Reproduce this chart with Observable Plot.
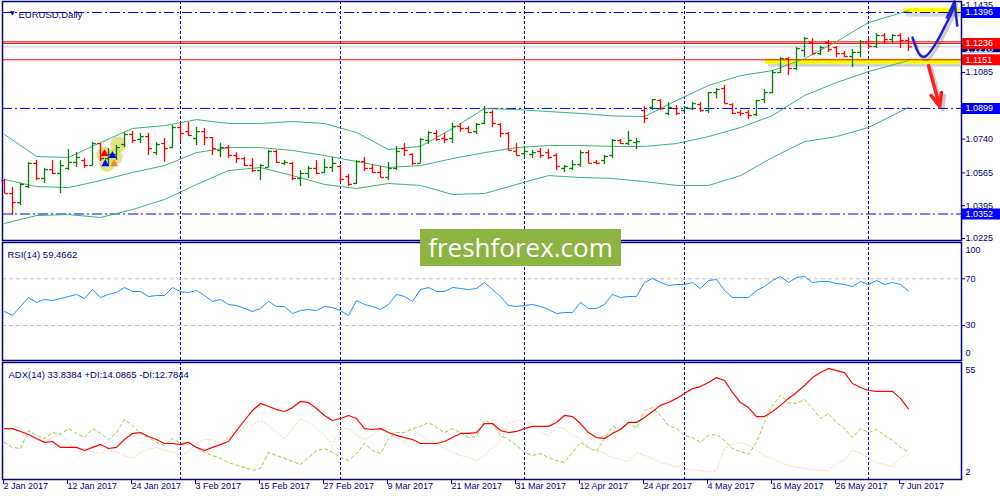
<!DOCTYPE html>
<html><head><meta charset="utf-8">
<script src="https://cdn.jsdelivr.net/npm/d3@7"></script>
<script src="https://cdn.jsdelivr.net/npm/@observablehq/plot@0.6"></script>
<style>
body{margin:0;background:#fff;}
#wrap{position:relative;width:1000px;height:500px;overflow:hidden;background:#fff;}
#wrap svg{position:absolute;left:0;top:0;}
#wm{position:absolute;left:420px;top:229px;width:201px;height:37px;background:#8db443;color:#fff;
font-family:"Open Sans",sans-serif;font-size:26px;line-height:36px;text-align:center;}
</style></head><body><div id="wrap"></div>
<script>
// ---------- DATA ----------
const open = [1.0525,1.0458,1.0411,1.0494,1.0614,1.0536,1.0582,1.0562,1.0588,1.0619,
1.0629,1.0603,1.0717,1.0639,1.0660,1.0712,1.0764,1.0738,1.0753,1.0670,
1.0717,1.0696,1.0800,1.0779,1.0743,1.0779,1.0748,1.0681,1.0696,1.0655,
1.0639,1.0603,1.0577,1.0593,1.0676,1.0614,1.0614,1.0536,1.0562,1.0588,
1.0567,1.0593,1.0598,1.0546,1.0510,1.0624,1.0588,1.0567,1.0541,1.0588,
1.0691,1.0660,1.0614,1.0733,1.0769,1.0743,1.0743,1.0805,1.0795,1.0779,
1.0821,1.0878,1.0816,1.0769,1.0676,1.0665,1.0660,1.0676,1.0670,1.0655,
1.0588,1.0588,1.0608,1.0670,1.0619,1.0629,1.0655,1.0733,1.0717,1.0722,
1.0888,1.0904,1.0940,1.0873,1.0898,1.0888,1.0898,1.0919,1.0888,1.0981,
1.1002,1.0919,1.0878,1.0878,1.0867,1.0945,1.0981,1.1085,1.1157,1.1106,
1.1199,1.1240,1.1183,1.1240,1.1214,1.1183,1.1168,1.1189,1.1245,1.1220,
1.1277,1.1256,1.1277,1.1251];
const high = [1.0531,1.0489,1.0510,1.0619,1.0629,1.0588,1.0629,1.0629,1.0686,1.0670,
1.0639,1.0722,1.0717,1.0691,1.0707,1.0774,1.0779,1.0769,1.0769,1.0722,
1.0743,1.0810,1.0816,1.0826,1.0800,1.0795,1.0748,1.0717,1.0707,1.0670,
1.0645,1.0639,1.0608,1.0681,1.0681,1.0629,1.0619,1.0577,1.0598,1.0629,
1.0634,1.0645,1.0603,1.0557,1.0629,1.0645,1.0608,1.0598,1.0619,1.0702,
1.0717,1.0665,1.0743,1.0779,1.0784,1.0769,1.0821,1.0821,1.0805,1.0821,
1.0909,1.0888,1.0821,1.0774,1.0717,1.0702,1.0681,1.0691,1.0686,1.0665,
1.0603,1.0629,1.0681,1.0681,1.0629,1.0655,1.0738,1.0738,1.0779,1.0743,
1.0909,1.0945,1.0945,1.0929,1.0914,1.0909,1.0929,1.0929,1.0981,1.1002,
1.1018,1.0924,1.0888,1.0888,1.0940,1.0997,1.1095,1.1163,1.1163,1.1214,
1.1266,1.1261,1.1220,1.1251,1.1220,1.1194,1.1204,1.1251,1.1256,1.1287,
1.1287,1.1282,1.1287,1.1266];
const low = [1.0458,1.0344,1.0396,1.0484,1.0525,1.0510,1.0557,1.0458,1.0577,1.0593,
1.0588,1.0603,1.0624,1.0598,1.0629,1.0696,1.0717,1.0717,1.0655,1.0655,
1.0619,1.0691,1.0722,1.0753,1.0707,1.0707,1.0655,1.0645,1.0639,1.0614,
1.0598,1.0567,1.0525,1.0593,1.0614,1.0603,1.0525,1.0494,1.0536,1.0557,
1.0562,1.0567,1.0515,1.0494,1.0505,1.0572,1.0562,1.0541,1.0525,1.0577,
1.0650,1.0603,1.0614,1.0712,1.0727,1.0717,1.0717,1.0774,1.0769,1.0764,
1.0816,1.0800,1.0748,1.0681,1.0655,1.0639,1.0639,1.0639,1.0634,1.0577,
1.0567,1.0577,1.0593,1.0614,1.0608,1.0608,1.0639,1.0712,1.0707,1.0686,
1.0821,1.0888,1.0888,1.0862,1.0862,1.0883,1.0888,1.0878,1.0873,1.0948,
1.0924,1.0867,1.0857,1.0841,1.0857,1.0924,1.0976,1.1080,1.1069,1.1095,
1.1163,1.1173,1.1173,1.1189,1.1163,1.1163,1.1111,1.1163,1.1209,1.1209,
1.1235,1.1235,1.1209,1.1194];
const close = [1.0458,1.0411,1.0505,1.0614,1.0536,1.0582,1.0562,1.0603,1.0619,1.0645,
1.0603,1.0717,1.0639,1.0660,1.0696,1.0764,1.0733,1.0753,1.0691,1.0712,
1.0691,1.0800,1.0769,1.0759,1.0779,1.0748,1.0691,1.0696,1.0655,1.0639,
1.0603,1.0577,1.0603,1.0676,1.0619,1.0619,1.0536,1.0562,1.0588,1.0562,
1.0593,1.0614,1.0531,1.0505,1.0624,1.0588,1.0567,1.0541,1.0588,1.0676,
1.0681,1.0614,1.0738,1.0774,1.0738,1.0738,1.0805,1.0795,1.0774,1.0816,
1.0878,1.0821,1.0769,1.0681,1.0655,1.0676,1.0670,1.0655,1.0645,1.0598,
1.0598,1.0608,1.0670,1.0614,1.0614,1.0650,1.0733,1.0717,1.0733,1.0727,
1.0847,1.0945,1.0898,1.0904,1.0873,1.0904,1.0924,1.0888,1.0981,1.0997,
1.0924,1.0873,1.0873,1.0862,1.0940,1.0981,1.1085,1.1157,1.1106,1.1209,
1.1261,1.1183,1.1214,1.1204,1.1183,1.1168,1.1189,1.1245,1.1220,1.1277,
1.1256,1.1277,1.1251,1.1218];

// Bollinger bands (read at every 4th bar)
const bbIdx = [0,4,8,12,16,20,24,28,32,36,40,44,48,52,56,60,64,68,72,76,80,84,88,92,96,100,104,108,113];
const bbUpper = [1.0764,1.0650,1.0645,1.0722,1.0795,1.0810,1.0841,1.0821,1.0821,1.0831,1.0821,1.0774,1.0686,1.0702,1.0795,1.0898,1.0893,1.0883,1.0873,1.0860,1.0857,1.0940,1.1018,1.1069,1.1095,1.1157,1.1245,1.1344,1.1406];
const bbMid = [1.0531,1.0494,1.0489,1.0525,1.0567,1.0603,1.0670,1.0696,1.0696,1.0681,1.0655,1.0624,1.0593,1.0603,1.0639,1.0670,1.0696,1.0707,1.0707,1.0702,1.0702,1.0717,1.0753,1.0800,1.0862,1.0966,1.1033,1.1090,1.1147];
const bbLower = [1.0303,1.0344,1.0349,1.0334,1.0375,1.0427,1.0505,1.0577,1.0593,1.0551,1.0505,1.0484,1.0510,1.0500,1.0453,1.0458,1.0505,1.0551,1.0541,1.0536,1.0520,1.0500,1.0500,1.0551,1.0645,1.0727,1.0753,1.0800,1.0904];

const rsi = [42.0,38.6,46.3,54.0,49.7,52.3,51.4,53.1,54.8,56.6,
53.1,60.8,54.0,56.6,58.3,62.5,59.1,59.1,54.8,55.7,
55.7,62.5,59.1,58.3,60.0,55.7,50.6,52.3,48.0,47.1,
44.6,42.0,44.6,50.6,46.3,46.3,40.3,42.8,43.7,42.8,
46.3,45.4,42.8,38.6,51.4,48.0,46.3,43.7,48.0,56.6,
54.8,50.6,60.8,62.5,59.1,59.1,62.5,61.7,60.8,61.7,
66.8,60.8,54.8,47.1,46.3,47.1,48.0,46.3,43.7,40.3,
41.1,41.1,49.7,44.6,44.6,48.0,56.6,54.0,54.8,54.8,
66.8,70.3,66.8,64.3,65.1,65.1,66.8,61.7,68.5,69.4,
60.0,54.0,54.0,54.0,60.0,63.4,68.5,72.0,66.8,71.1,
72.0,66.8,67.7,67.7,66.0,65.1,63.4,67.7,65.1,68.5,
65.1,66.8,65.1,59.47];

const adx = [24.8,24.8,23.5,22.1,20.3,18.5,18.9,16.2,16.2,16.2,
14.8,16.2,17.5,15.7,16.2,19.8,22.6,23.0,21.2,19.8,
18.0,18.0,17.5,18.5,16.2,14.8,16.2,17.5,18.9,23.9,
28.5,33.1,36.3,34.9,33.5,32.6,34.4,37.2,36.7,34.0,
30.8,28.5,29.4,30.8,29.4,24.8,24.4,24.8,23.0,21.7,
20.7,19.8,18.0,18.0,18.0,18.9,20.7,22.6,22.6,23.0,
27.1,27.1,23.9,23.0,23.5,24.8,25.8,25.8,25.8,27.6,
30.8,30.3,27.1,23.0,20.7,20.3,22.6,24.4,27.6,27.6,
29.9,32.6,35.4,36.7,38.6,40.8,43.1,44.0,45.9,48.1,
46.8,41.3,36.7,34.4,30.3,30.3,32.6,35.4,38.6,41.3,
44.5,48.1,50.4,52.3,51.3,50.4,45.4,43.6,42.2,41.8,
41.8,41.8,38.6,33.84];
const plusDI = [18.5,16.2,15.7,23.9,21.7,20.3,23.0,22.1,24.8,22.6,
20.7,24.8,22.6,19.8,23.0,29.0,26.2,22.6,20.7,18.5,
17.1,20.3,18.0,18.5,16.2,13.9,12.5,11.2,9.3,8.0,
7.1,5.7,6.6,13.9,12.5,11.2,9.8,8.4,11.6,14.8,
15.7,13.9,11.6,10.2,13.4,18.0,14.8,13.4,20.3,23.0,
23.0,24.8,25.8,27.6,25.3,23.0,24.8,23.0,20.7,21.2,
28.5,27.1,21.7,19.8,17.1,13.9,12.5,13.4,11.6,10.2,
9.3,13.9,18.5,16.2,14.3,20.3,25.8,24.4,27.6,24.8,
33.1,34.4,30.8,26.2,24.8,21.7,20.7,18.5,21.7,22.1,
19.4,15.7,14.3,13.0,18.5,27.6,35.4,39.9,36.7,36.3,
38.1,34.0,29.4,31.7,27.6,24.8,20.7,24.8,23.0,24.4,
21.7,19.4,16.2,14.09];
const minusDI = [23.0,26.2,24.8,21.7,19.8,18.5,20.7,22.6,18.0,16.2,
15.7,14.3,13.4,15.7,13.9,12.5,11.2,13.9,15.3,16.2,
14.8,14.3,12.5,14.3,18.0,19.8,19.8,18.5,20.5,22.6,
25.3,26.7,28.5,26.2,23.0,20.3,24.8,29.4,27.6,24.8,
21.7,17.1,24.8,24.8,22.1,19.8,21.7,24.8,22.6,20.3,
18.5,24.4,21.7,19.4,18.5,15.7,13.9,12.5,11.6,10.2,
12.5,16.2,19.4,27.1,28.5,27.6,27.1,23.0,21.7,25.8,
24.8,21.7,20.3,15.7,14.8,13.4,11.6,10.7,9.8,13.9,
12.5,11.2,9.3,8.4,7.5,6.6,6.1,5.7,4.8,5.7,
15.7,17.5,18.5,17.1,14.8,12.5,11.2,9.3,8.0,7.1,
6.6,6.1,5.7,5.7,9.3,10.2,14.8,13.4,11.6,9.3,
8.4,7.5,11.6,12.78];

const dateTickIdx = [0,8,16,24,32,40,48,56,64,72,80,88,96,104,112];
const dateTickLabels = ["2 Jan 2017","12 Jan 2017","24 Jan 2017","3 Feb 2017","15 Feb 2017","27 Feb 2017","9 Mar 2017","21 Mar 2017","31 Mar 2017","12 Apr 2017","24 Apr 2017","4 May 2017","16 May 2017","26 May 2017","7 Jun 2017"];
const monthStartIdx = [22,42,65,85,108];

const priceTicks = [1.1435,1.1085,1.0740,1.0565,1.0395,1.0225];
const blueLevels = [1.1396,1.0899,1.0352];
const redLevels = [1.1244,1.1236,1.1151];
const bidLevel = [1.1218];
const redBoxLevels = [1.1236,1.1151];
const rsiLevels = [70,30];

// annotation drawings (bar index, price)
const upArrowIdx = [113.5,114.5,115.1,116.4,117.6,118.5,118.75];
const upArrowPrice = [1.1266,1.1173,1.1168,1.1235,1.1328,1.1406,1.1453];
const upHeadIdx = [117.75,119.1];
const upHeadPrice = [1.1365,1.1323];
const downArrow = {i1:115.5, p1:1.1121, i2:116.9, p2:1.0909};
const glowIdx = [12.5,12.8,14.2,13.8];
const glowPrice = [1.0660,1.0612,1.0712,1.0650];

// ---------- CHART ----------
const navy = "#000080", F = "Liberation Sans, Arial, sans-serif";
const xs = {domain:[-0.5,124.5], range:[0,1000], axis:null};
const base = {width:1000, height:500, marginTop:0, marginRight:0, marginBottom:0, marginLeft:0,
  style:{background:"transparent", overflow:"visible"}};
const bars = open.map((o,i)=>({i, o, h:high[i], l:low[i], c:close[i]}));
const up = bars.filter(d=>d.c>=d.o), dn = bars.filter(d=>d.c<d.o);
const bb = bbIdx.map((i,k)=>({i, u:bbUpper[k], m:bbMid[k], l:bbLower[k]}));
const arrowPts = upArrowIdx.map((i,k)=>({i, p:upArrowPrice[k]}));
const headPts = upHeadIdx.map((i,k)=>({i, p:upHeadPrice[k]}));
const tip = arrowPts[arrowPts.length-1];
const glow = glowIdx.map((i,k)=>({i, p:glowPrice[k]}));
const dates = dateTickIdx.map((i,k)=>({i, t:dateTickLabels[k]}));
const grid = {stroke:navy, strokeDasharray:"3,2"};

function barMarks(data, color){
  return [
    Plot.ruleX(data,{x:"i", y1:"l", y2:"h", stroke:color, strokeWidth:1.3}),
    Plot.link(data,{x1:d=>d.i-0.42, x2:"i", y1:"o", y2:"o", stroke:color, strokeWidth:1.3}),
    Plot.link(data,{x1:"i", x2:d=>d.i+0.42, y1:"c", y2:"c", stroke:color, strokeWidth:1.3})
  ];
}
function axisLabels(vals, fmt, color, opts={}){
  return Plot.text(vals,{y:d=>d, text:fmt, frameAnchor:"left", dx:965, textAnchor:"start",
    fill:color, fontSize:9, fontFamily:F, ...opts});
}

const main = Plot.plot({...base, x:xs, y:{domain:[1.0225,1.1396], range:[238,12], axis:null},
  marks:[
    Plot.ruleX(monthStartIdx,{x:d=>d, ...grid, insetTop:1, insetBottom:260}),
    // yellow highlights with shadow
    Plot.ruleY([1.1151],{y:d=>d, stroke:"#808080", strokeOpacity:0.35, strokeWidth:4, dy:5, insetLeft:768, insetRight:40}),
    Plot.ruleY([1.1151],{y:d=>d, stroke:"#ffff00", strokeWidth:5, dy:1.5, insetLeft:765, insetRight:40}),
    Plot.ruleY([1.1396],{y:d=>d, stroke:"#808080", strokeOpacity:0.3, strokeWidth:4, dy:2, insetLeft:906, insetRight:40}),
    Plot.ruleY([1.1396],{y:d=>d, stroke:"#ffff00", strokeWidth:5, dy:-2.5, insetLeft:904, insetRight:40}),
    Plot.ruleY(blueLevels,{y:d=>d, stroke:"#0000ff", strokeDasharray:"10,3,2,3", insetLeft:2, insetRight:39}),
    Plot.ruleY(bidLevel,{y:d=>d, stroke:"#c8c8c8", insetLeft:2, insetRight:39}),
    Plot.ruleY(redLevels,{y:d=>d, stroke:"#ff0000", insetLeft:2, insetRight:39}),
    // Bollinger bands
    Plot.line(bb,{x:"i", y:"u", stroke:"#3cb371", strokeWidth:1}),
    Plot.line(bb,{x:"i", y:"m", stroke:"#3cb371", strokeWidth:1}),
    Plot.line(bb,{x:"i", y:"l", stroke:"#3cb371", strokeWidth:1}),
    // fractal highlights
    Plot.dot(glow,{x:"i", y:"p", r:8, fill:"#dcd86a", fillOpacity:0.75}),
    ...barMarks(up,"#008000"),
    ...barMarks(dn,"#ff0000"),
    Plot.dot([glow[0]],{x:"i", y:"p", r:3, symbol:"triangle", fill:"#ff0000", dy:-1}),
    Plot.dot([glow[0]],{x:d=>d.i+1, y:"p", r:3, symbol:"triangle", fill:"#0000ff", dy:1}),
    Plot.dot([glow[1]],{x:d=>d.i-0.2, y:"p", r:3, symbol:"triangle", fill:"#0000ff"}),
    Plot.dot([glow[1]],{x:d=>d.i+0.9, y:"p", r:3, symbol:"triangle", fill:"#e08a20"}),
    // arrows (shadow + stroke)
    Plot.line(arrowPts,{x:"i", y:"p", curve:"catmull-rom", stroke:"#000", strokeOpacity:0.2, strokeWidth:3, dx:2, dy:3}),
    Plot.line(arrowPts,{x:"i", y:"p", curve:"catmull-rom", stroke:"#1f1fe0", strokeWidth:2.5}),
    Plot.link(headPts,{x1:"i", y1:"p", x2:()=>tip.i, y2:()=>tip.p, stroke:"#1f1fe0", strokeWidth:2.5}),
    Plot.arrow([downArrow],{x1:"i1", y1:"p1", x2:"i2", y2:"p2", stroke:"#000", strokeOpacity:0.2, strokeWidth:3.5, headLength:20, headAngle:45, dx:3, dy:3}),
    Plot.arrow([downArrow],{x1:"i1", y1:"p1", x2:"i2", y2:"p2", stroke:"#ff2020", strokeWidth:3.5, headLength:20, headAngle:45}),
    Plot.frame({stroke:navy, strokeWidth:1.5, insetLeft:2, insetRight:39, insetTop:1, insetBottom:260}),
    // right axis
    Plot.ruleY(priceTicks,{y:d=>d, stroke:navy, insetLeft:961, insetRight:35}),
    axisLabels(priceTicks, d=>d.toFixed(4), navy),
    Plot.ruleY(bidLevel,{y:d=>d, stroke:navy, strokeWidth:11, insetLeft:962}),
    axisLabels(bidLevel, d=>d.toFixed(4), "#fff", {dy:2}),
    Plot.ruleY(redBoxLevels,{y:d=>d, stroke:"#ff0000", strokeWidth:11, insetLeft:962}),
    axisLabels(redBoxLevels, d=>d.toFixed(4), "#fff"),
    Plot.ruleY(blueLevels,{y:d=>d, stroke:"#0000ff", strokeWidth:11, insetLeft:962}),
    axisLabels(blueLevels, d=>d.toFixed(4), "#fff"),
    // header
    Plot.text(["▼"],{frameAnchor:"top-left", dx:9.5, dy:10.5, fill:navy, fontSize:6, fontFamily:"DejaVu Sans"}),
    Plot.text(["EURUSD,Daily"],{frameAnchor:"top-left", dx:18, dy:11, textAnchor:"start", fill:navy, fontSize:9.5, fontFamily:F})
  ]});

const rsiPlot = Plot.plot({...base, x:xs, y:{domain:[30,70], range:[325,278.3], axis:null},
  marks:[
    Plot.ruleX(monthStartIdx,{x:d=>d, ...grid, insetTop:242, insetBottom:140}),
    Plot.ruleY(rsiLevels,{y:d=>d, stroke:"#c0c0c0", strokeDasharray:"4,3", insetLeft:2, insetRight:39}),
    Plot.line(rsi,{x:(d,i)=>i, y:d=>d, stroke:"#1e90ff", strokeWidth:1}),
    Plot.frame({stroke:navy, strokeWidth:1.5, insetLeft:2, insetRight:39, insetTop:242, insetBottom:140}),
    Plot.ruleY(rsiLevels,{y:d=>d, stroke:navy, insetLeft:961, insetRight:35}),
    Plot.text([100],{y:d=>d, text:d=>String(d), frameAnchor:"left", dx:965, dy:6, textAnchor:"start", fill:navy, fontSize:9, fontFamily:F}),
    Plot.text([70,30],{y:d=>d, text:d=>String(d), frameAnchor:"left", dx:965, textAnchor:"start", fill:navy, fontSize:9, fontFamily:F}),
    Plot.text([0],{y:d=>d, text:d=>String(d), frameAnchor:"left", dx:965, dy:-7, textAnchor:"start", fill:navy, fontSize:9, fontFamily:F}),
    Plot.text(["RSI(14) 59.4662"],{frameAnchor:"top-left", dx:7, dy:251, textAnchor:"start", fill:navy, fontSize:9.5, fontFamily:F})
  ]});

const adxPlot = Plot.plot({...base, x:xs, y:{domain:[2,55], range:[478,362], axis:null},
  marks:[
    Plot.ruleX(monthStartIdx,{x:d=>d, ...grid, insetTop:362, insetBottom:21}),
    Plot.line(minusDI,{x:(d,i)=>i, y:d=>d, stroke:"#f5deb3", strokeWidth:1, strokeDasharray:"2,2"}),
    Plot.line(plusDI,{x:(d,i)=>i, y:d=>d, stroke:"#9acd32", strokeWidth:1, strokeDasharray:"3,3"}),
    Plot.line(adx,{x:(d,i)=>i, y:d=>d, stroke:"#ff0000", strokeWidth:1.2}),
    Plot.frame({stroke:navy, strokeWidth:1.5, insetLeft:2, insetRight:39, insetTop:362, insetBottom:21}),
    Plot.text([55],{y:d=>d, text:d=>String(d), frameAnchor:"left", dx:965, dy:8, textAnchor:"start", fill:navy, fontSize:9, fontFamily:F}),
    Plot.text([2],{y:d=>d, text:d=>String(d), frameAnchor:"left", dx:965, dy:-6, textAnchor:"start", fill:navy, fontSize:9, fontFamily:F}),
    Plot.text(["ADX(14) 33.8384 +DI:14.0865 -DI:12.7844"],{frameAnchor:"top-left", dx:8, dy:371, textAnchor:"start", fill:navy, fontSize:9.5, fontFamily:F}),
    // date axis
    Plot.ruleX(dates,{x:"i", dx:-1, stroke:navy, insetTop:479, insetBottom:16}),
    Plot.text(dates,{x:"i", text:"t", frameAnchor:"bottom", dx:-1, dy:-11.5, textAnchor:"start", fill:navy, fontSize:9, fontFamily:F})
  ]});

const wrap = document.getElementById("wrap");
wrap.append(main, rsiPlot, adxPlot);
const wm = document.createElement("div");
wm.id = "wm"; wm.textContent = "freshforex.com";
wrap.append(wm);
</script></body></html>
